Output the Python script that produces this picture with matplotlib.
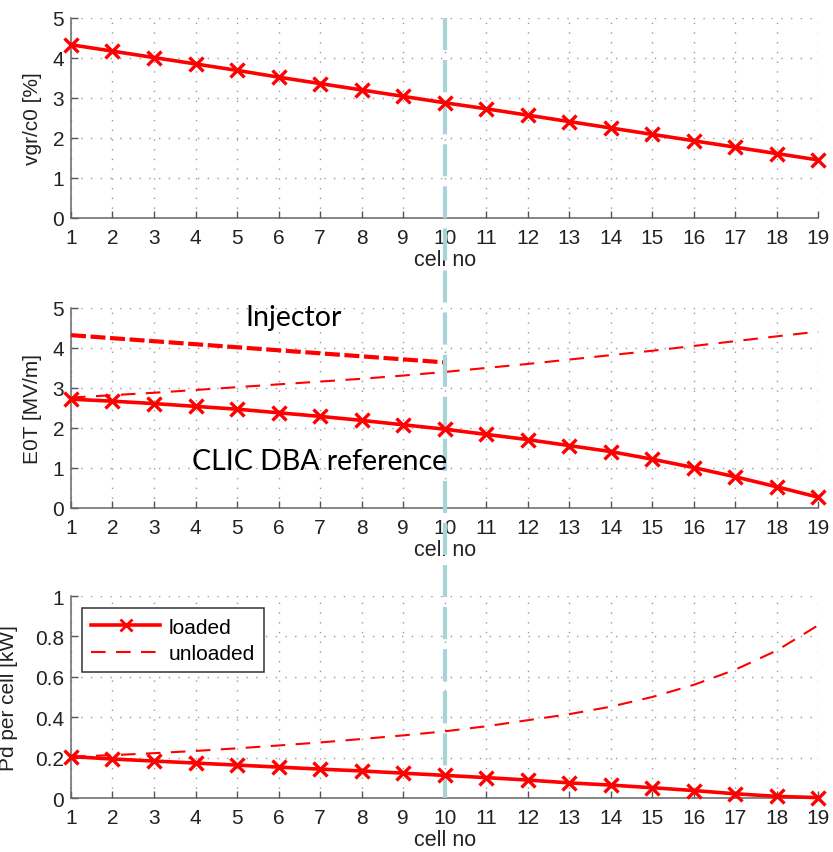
import matplotlib.pyplot as plt
import matplotlib.transforms as mtransforms
from matplotlib.lines import Line2D

# cell numbers
cells = list(range(1, 20))

# group velocity vgr/c0 [%]
vgr = [4.33, 4.17, 4.01, 3.85, 3.69, 3.52, 3.36, 3.20, 3.04, 2.88,
       2.73, 2.57, 2.41, 2.25, 2.09, 1.93, 1.77, 1.61, 1.45]

# E0T [MV/m]
e0t_loaded = [2.72, 2.67, 2.61, 2.54, 2.47, 2.38, 2.29, 2.19, 2.08, 1.97,
              1.84, 1.71, 1.56, 1.41, 1.22, 1.01, 0.78, 0.53, 0.27]
e0t_unloaded = [2.76, 2.82, 2.88, 2.95, 3.02, 3.09, 3.16, 3.23, 3.31, 3.40,
                3.50, 3.60, 3.71, 3.82, 3.93, 4.05, 4.17, 4.29, 4.41]
injector_cells = [1, 10]
injector_e0t = [4.32, 3.64]

# Pd per cell [kW]
pd_loaded = [0.205, 0.193, 0.183, 0.173, 0.163, 0.153, 0.143, 0.134, 0.123, 0.112,
             0.101, 0.089, 0.075, 0.064, 0.051, 0.037, 0.021, 0.008, 0.002]
pd_unloaded = [0.205, 0.212, 0.222, 0.233, 0.246, 0.260, 0.275, 0.292, 0.310, 0.330,
               0.355, 0.385, 0.415, 0.452, 0.500, 0.560, 0.635, 0.730, 0.855]

yticks_5 = [0, 1, 2, 3, 4, 5]
yticks_pd = [0, 0.2, 0.4, 0.6, 0.8, 1]
yticklabels_pd = ['0', '0.2', '0.4', '0.6', '0.8', '1']

split_cell = 10

plt.rcParams['font.family'] = ['Liberation Sans', 'DejaVu Sans']

W, H = 833, 853
fig = plt.figure(figsize=(W / 100, H / 100), dpi=100)
left, width = 0.0852, 0.897
ax1 = fig.add_axes([left, 0.7433, width, 0.2345])
ax2 = fig.add_axes([left, 0.4033, width, 0.2345])
ax3 = fig.add_axes([left, 0.0633, width, 0.2368])

red = '#ff0000'
loaded_kw = dict(color=red, lw=2.6, marker='x', ms=10.5, mew=2.4, clip_on=False, zorder=5)
unloaded_kw = dict(color=red, lw=1.5, ls=(0, (7, 5)), clip_on=False, zorder=4)

ax1.plot(cells, vgr, **loaded_kw)
ax1.set_ylabel('vgr/c0 [%]')
ax1.set_ylim(0, 5)
ax1.set_yticks(yticks_5)

ax2.plot(cells, e0t_loaded, **loaded_kw)
ax2.plot(cells, e0t_unloaded, **unloaded_kw)
ax2.plot(injector_cells, injector_e0t, color=red, lw=3, ls=(0, (3.6, 1.1)), zorder=4)
ax2.set_ylabel('E0T [MV/m]')
ax2.set_ylim(0, 5)
ax2.set_yticks(yticks_5)
ax2.text(0.2985, 0.955, 'Injector', transform=ax2.transAxes, fontsize=20.5,
         family=['Lato', 'DejaVu Sans'], ha='center', va='center', zorder=6)
ax2.text(0.333, 0.235, 'CLIC DBA reference', transform=ax2.transAxes, fontsize=20.5,
         family=['Lato', 'DejaVu Sans'], ha='center', va='center', zorder=6)

ax3.plot(cells, pd_loaded, label='loaded', **loaded_kw)
ax3.plot(cells, pd_unloaded, label='unloaded', **unloaded_kw)
ax3.set_ylabel('Pd per cell [kW]')
ax3.set_ylim(0, 1)
ax3.set_yticks(yticks_pd)
ax3.set_yticklabels(yticklabels_pd)
leg = ax3.legend(loc='upper left', fontsize=15, fancybox=False, framealpha=1,
                 edgecolor='#333333', handlelength=3.3, handletextpad=0.4,
                 borderpad=0.45, labelspacing=0.35, borderaxespad=0,
                 bbox_to_anchor=(0.0147, 0.94))
leg.get_frame().set_linewidth(1.1)
leg.legend_handles[0].set_markersize(8)
leg.legend_handles[0].set_markeredgewidth(2)

# right edge of each rotated y label (axes fraction)
ylabel_x = {ax1: -0.039, ax2: -0.039, ax3: -0.071}
for ax in (ax1, ax2, ax3):
    ax.set_xlim(1, 19)
    ax.set_xticks(cells)
    ax.set_xlabel('cell no', fontsize=15.5, va='top')
    ax.xaxis.set_label_coords(0.5, -0.155)
    ax.yaxis.label.set_fontsize(15)
    ax.yaxis.set_label_coords(ylabel_x[ax], 0.5)
    ax.grid(True, ls=(0, (1, 6)), color='#999999', lw=1.0)
    ax.tick_params(direction='in', length=5, width=1, colors='#555555',
                   labelcolor='#222222', labelsize=15)
    ax.tick_params(axis='x', pad=7)
    ax.tick_params(axis='y', pad=5)
    ax.spines['top'].set_visible(False)
    ax.spines['right'].set_visible(False)
    for s in ('left', 'bottom'):
        ax.spines[s].set_color('#666666')
        ax.spines[s].set_linewidth(1.1)
    ax.yaxis.label.set_color('#222222')
    ax.xaxis.label.set_color('#222222')

# vertical divider at cell 10, from the top of the first panel to the bottom of
# the last one; drawn piecewise in each panel so the red curves stay in front
cyan_lw = 3.0
cyan_dash = (7.7, 2.4)
y_top = ax1.get_position().y1
y_bot = ax3.get_position().y0
b1 = (ax1.get_position().y0 + ax2.get_position().y1) / 2
b2 = (ax2.get_position().y0 + ax3.get_position().y1) / 2
pieces = [(ax1, y_top, b1), (ax2, b1, b2), (ax3, b2, y_bot)]
for ax, ya, yb in pieces:
    trans = mtransforms.blended_transform_factory(ax.transData, fig.transFigure)
    offset_pt = (y_top - ya) * H * 0.72
    ax.add_line(Line2D([split_cell, split_cell], [ya, yb], transform=trans,
                       color='#a8d4d8', lw=cyan_lw, clip_on=False, zorder=4.5,
                       ls=(offset_pt / cyan_lw, cyan_dash)))

fig.savefig('out.png', dpi=100)
